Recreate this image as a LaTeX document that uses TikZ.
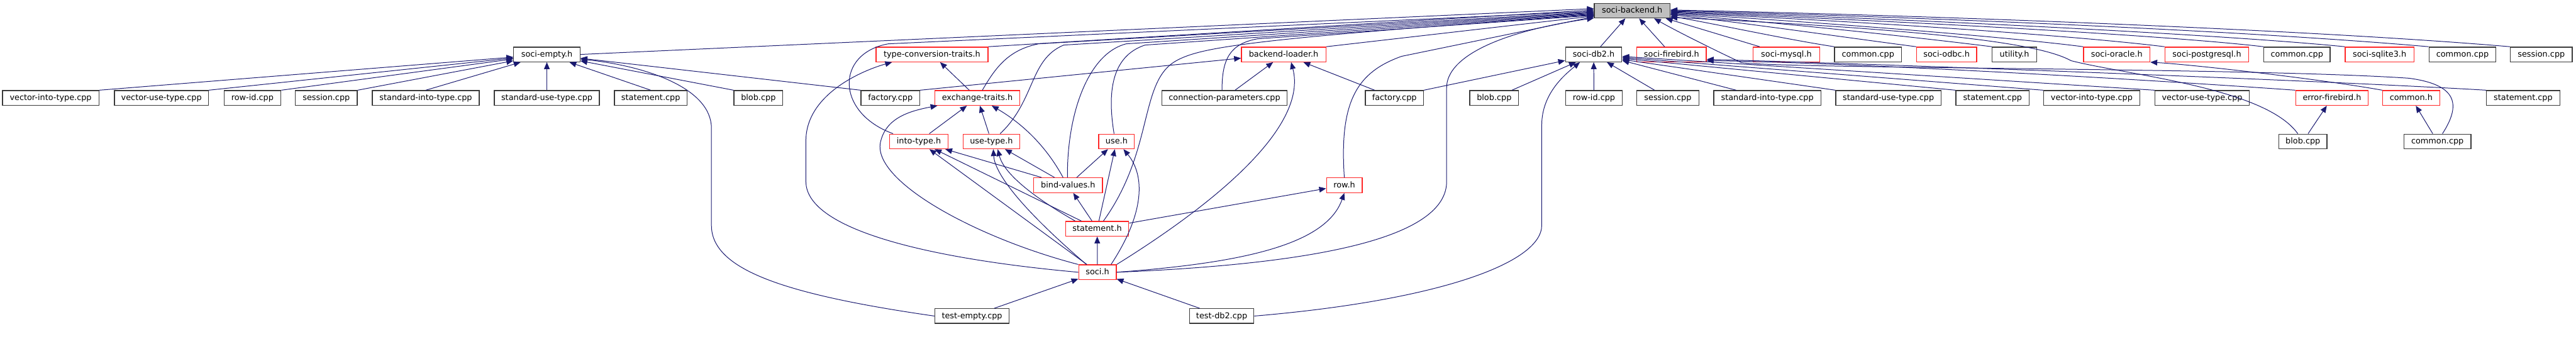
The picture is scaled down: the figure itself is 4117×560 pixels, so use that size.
\documentclass[tikz,border=0pt]{standalone}
\usepackage{fontspec}
\setmainfont{DejaVu Sans}
\usetikzlibrary{arrows.meta,calc}
\definecolor{eblue}{HTML}{191970}
\definecolor{nred}{HTML}{FF2626}
\definecolor{ngray}{HTML}{BFBFBF}
\definecolor{nblack}{HTML}{3A3A3A}
\begin{document}
\begin{tikzpicture}[x=1pt,y=-1pt,
  nb/.style={draw=nblack, line width=1.3pt, rectangle, inner sep=0pt, minimum height=23.5pt,
    font=\fontsize{12.9}{15}\selectfont, text height=9.8pt, text depth=2.4pt, fill=white},
  nr/.style={nb, draw=nred},
  e/.style={draw=eblue, line width=1pt, -{Triangle[length=11pt,width=9pt]}}]
\useasboundingbox (0,0) rectangle (4117,560);
% ---------- nodes ----------
\node[nb, fill=ngray, minimum width=121] (be) at (2608.5,17) {soci-backend.h};
% row 1
\node[nb, minimum width=106] (empty) at (874,87) {soci-empty.h};
\node[nr, minimum width=179] (tct) at (1489.5,87) {type-conversion-traits.h};
\node[nr, minimum width=135] (bl) at (2051.5,87) {backend-loader.h};
\node[nb, minimum width=90] (db2) at (2547,87) {soci-db2.h};
\node[nr, minimum width=111] (fb) at (2671.5,87) {soci-firebird.h};
\node[nr, minimum width=106] (my) at (2855,87) {soci-mysql.h};
\node[nb, minimum width=107] (cc1) at (2985.5,87) {common.cpp};
\node[nr, minimum width=96] (odbc) at (3111,87) {soci-odbc.h};
\node[nb, minimum width=71] (util) at (3219.5,87) {utility.h};
\node[nr, minimum width=106] (ora) at (3383,87) {soci-oracle.h};
\node[nr, minimum width=134] (pg) at (3527,87) {soci-postgresql.h};
\node[nb, minimum width=106] (cc2) at (3671,87) {common.cpp};
\node[nr, minimum width=110] (sq) at (3803,87) {soci-sqlite3.h};
\node[nb, minimum width=107] (cc3) at (3935.5,87) {common.cpp};
\node[nb, minimum width=99] (ses1) at (4061.5,87) {session.cpp};
% row 2
\node[nb, minimum width=154] (evit) at (81,156.5) {vector-into-type.cpp};
\node[nb, minimum width=150] (evut) at (258,156.5) {vector-use-type.cpp};
\node[nb, minimum width=91] (erid) at (403.5,156.5) {row-id.cpp};
\node[nb, minimum width=99] (eses) at (521.5,156.5) {session.cpp};
\node[nb, minimum width=171] (esit) at (680.5,156.5) {standard-into-type.cpp};
\node[nb, minimum width=168] (esut) at (874,156.5) {standard-use-type.cpp};
\node[nb, minimum width=116] (estm) at (1040,156.5) {statement.cpp};
\node[nb, minimum width=78] (eblob) at (1212,156.5) {blob.cpp};
\node[nb, minimum width=94] (efac) at (1423,156.5) {factory.cpp};
\node[nr, minimum width=136] (ext) at (1562,156.5) {exchange-traits.h};
\node[nb, minimum width=200] (cp) at (1957,156.5) {connection-parameters.cpp};
\node[nb, minimum width=93] (dfac) at (2228.5,156.5) {factory.cpp};
\node[nb, minimum width=78] (dblob) at (2388,156.5) {blob.cpp};
\node[nb, minimum width=91] (drid) at (2547.5,156.5) {row-id.cpp};
\node[nb, minimum width=99] (dses) at (2665.5,156.5) {session.cpp};
\node[nb, minimum width=171] (dsit) at (2824.5,156.5) {standard-into-type.cpp};
\node[nb, minimum width=168] (dsut) at (3018,156.5) {standard-use-type.cpp};
\node[nb, minimum width=117] (dstm) at (3184.5,156.5) {statement.cpp};
\node[nb, minimum width=154] (dvit) at (3343,156.5) {vector-into-type.cpp};
\node[nb, minimum width=151] (dvut) at (3519.5,156.5) {vector-use-type.cpp};
\node[nr, minimum width=116] (efb) at (3727,156.5) {error-firebird.h};
\node[nr, minimum width=91] (ch) at (3853.5,156.5) {common.h};
\node[nb, minimum width=117] (stm2) at (4032.5,156.5) {statement.cpp};
% row 3
\node[nr, minimum width=93] (it) at (1468.5,226) {into-type.h};
\node[nr, minimum width=91] (ut) at (1584.5,226) {use-type.h};
\node[nr, minimum width=57] (use) at (1784.5,226) {use.h};
\node[nb, minimum width=77] (blob3) at (3680.5,226) {blob.cpp};
\node[nb, minimum width=107] (cc4) at (3895.5,226) {common.cpp};
% row 4
\node[nr, minimum width=110] (bv) at (1707,296) {bind-values.h};
\node[nr, minimum width=57] (row) at (2148.5,296) {row.h};
% row 5-7
\node[nr, minimum width=101] (st) at (1753.5,365.5) {statement.h};
\node[nr, minimum width=60] (soci) at (1754,435) {soci.h};
\node[nb, minimum width=119] (te) at (1553.5,505) {test-empty.cpp};
\node[nb, minimum width=103] (td) at (1952.5,505) {test-db2.cpp};
% ---------- edges: soci-empty.h ----------
\draw[e] (evit.north east) -- (empty);
\draw[e] (evut.north east) -- (empty);
\draw[e] (erid.north east) -- (empty);
\draw[e] (eses.north east) -- (empty);
\draw[e] (esit.north) -- (empty);
\draw[e] (esut) -- (empty);
\draw[e] (estm.north) -- (empty);
\draw[e] (eblob.north west) -- (empty);
\draw[e] (efac.north west) -- (empty);
\draw[e] (te.west) .. controls (1250,470) and (1137,430) .. (1137,360) -- (1137,205)
   .. controls (1137,140) and (1030,105) .. (empty.-8);
% ---------- edges into soci-backend.h (left) ----------
\draw[e] (empty.east) -- (be.177);
\draw[e] (tct.north east) -- (be.179);
\draw[e] ($(it.north west)+(6,0)$) .. controls (1335,180) and (1335,85) .. (1420,70) -- (be.181);
\draw[e] ($(ext.north)+(8,0)$) .. controls (1590,110) and (1610,80) .. (1660,70) -- (be.182);
\draw[e] ($(ut.north)+(14,0)$) .. controls (1655,160) and (1645,95) .. (1700,72) -- (be.183);
\draw[e] ($(bv.north)+(-1,0)$) .. controls (1705,180) and (1740,85) .. (1800,70) -- (be.184);
\draw[e] ($(use.north)+(-4,0)$) .. controls (1770,150) and (1775,90) .. (1830,72) -- (be.185);
\draw[e] ($(st.north)+(10,0)$) .. controls (1845,240) and (1820,130) .. (1880,97)
   .. controls (1920,75) and (2000,62) .. (be.186);
\draw[e] ($(cp.north)+(-4,0)$) .. controls (1953,95) and (1965,70) .. (2010,62) -- (be.187);
\draw[e] (bl.north east) -- (be.188);
\draw[e] (row.north) .. controls (2140,160) and (2170,115) .. (2240,90) -- (be.189);
\draw[e] (soci.east) .. controls (2150,420) and (2312,370) .. (2312,290) -- (2312,140)
   .. controls (2312,90) and (2400,50) .. (be.191);
% ---------- edges into soci-backend.h (bottom / right) ----------
\draw[e] (db2) -- (be);
\draw[e] (fb) -- (be);
\draw[e] ($(my.north west)+(11,0)$) -- (be.-13);
\draw[e] (cc1.north west) .. controls (2850,62) and (2750,40) .. (be.-8);
\draw[e] (odbc.north west) .. controls (2950,60) and (2800,38) .. (be.-6);
\draw[e] (util.north west) .. controls (3050,58) and (2850,37) .. (be.-5);
\draw[e] (ora.north west) .. controls (3200,58) and (2900,35) .. (be.-4);
\draw[e] (pg.north west) .. controls (3300,55) and (2950,33) .. (be.-3);
\draw[e] (cc2.north west) .. controls (3450,55) and (3000,32) .. (be.-2);
\draw[e] (sq.north west) .. controls (3550,55) and (3050,30) .. (be.-1);
\draw[e] (cc3.north west) .. controls (3600,50) and (3100,28) .. (be.0);
\draw[e] (ses1.north west) .. controls (3700,48) and (3100,25) .. (be.1);
\draw[e] ($(blob3.north west)+(31,0)$) .. controls (3620,140) and (3400,120) .. (3310,97)
   .. controls (3270,75) and (3150,50) .. (be.-10);
\draw[e] ($(cc4.north)+(8,0)$) .. controls (3935,165) and (3925,135) .. (3850,125)
   .. controls (3600,108) and (2850,110) .. (2783,100) .. controls (2740,80) and (2680,50) .. ($(be.south)+(35,0)$);
% ---------- type/exchange cluster ----------
\draw[e] (ext) -- (tct);
\draw[e] (it) -- (ext);
\draw[e] (ut) -- (ext);
\draw[e] ($(bv.north)+(-8,0)$) .. controls (1670,230) and (1630,195) .. ($(ext.south)+(23,0)$);
\draw[e] (bv) -- (it);
\draw[e] (bv) -- (ut);
\draw[e] (bv) -- (use);
\draw[e] (st) -- (bv);
\draw[e] (st) -- (it);
\draw[e] ($(st.north west)+(16,0)$) .. controls (1660,320) and (1605,280) .. ($(ut.south)+(10,0)$);
\draw[e] (st) -- (use);
\draw[e] (st) -- (row);
\draw[e] (soci) -- (st);
\draw[e] (soci) -- (it);
\draw[e] ($(soci.north west)+(13,0)$) .. controls (1640,340) and (1590,280) .. ($(ut.south)+(3,0)$);
\draw[e] ($(soci.north east)+(-9,0)$) .. controls (1830,340) and (1830,280) .. ($(use.south)+(11,0)$);
\draw[e] (soci.north west) .. controls (1560,380) and (1395,290) .. (1407,228)
   .. controls (1415,190) and (1450,178) .. (ext.191);
\draw[e] (soci.west) .. controls (1500,415) and (1288,370) .. (1288,290) -- (1288,225)
   .. controls (1288,150) and (1380,112) .. (tct.191);
\draw[e] (soci.east) .. controls (1990,420) and (2120,390) .. (row.south);
\draw[e] (soci.north east) .. controls (1950,320) and (2090,200) .. ($(bl.south)+(12,0)$);
\draw[e] (te) -- (soci);
\draw[e] (td) -- (soci);
% ---------- backend loader ----------
\draw[e] (cp) -- (bl);
\draw[e] (dfac) -- (bl);
\draw[e] (efac.north east) -- (bl.185);
% ---------- soci-db2.h ----------
\draw[e] (dfac.north east) -- (db2.192);
\draw[e] (dblob) -- (db2);
\draw[e] (drid) -- (db2);
\draw[e] (dses) -- (db2);
\draw[e] (dsit.166) -- (db2.-12);
\draw[e] (dsut.north west) -- (db2.-10);
\draw[e] (dstm.north west) -- (db2.-8);
\draw[e] (dvit.north west) -- (db2.-6);
\draw[e] (dvut.north west) -- (db2.-4);
\draw[e] (td.east) .. controls (2300,480) and (2464,420) .. (2464,360) -- (2464,200)
   .. controls (2464,150) and (2500,120) .. ($(db2.south)+(-22,0)$);
% ---------- firebird / oracle ----------
\draw[e] (efb.north west) .. controls (3400,125) and (2950,100) .. (fb.-10);
\draw[e] (stm2.north west) .. controls (3700,128) and (3000,102) .. (fb.-8);
\draw[e] (blob3) -- (efb);
\draw[e] (cc4) -- (ch);
\draw[e] (ch.north west) .. controls (3700,125) and (3500,103) .. (ora.-13);
\end{tikzpicture}
\end{document}
